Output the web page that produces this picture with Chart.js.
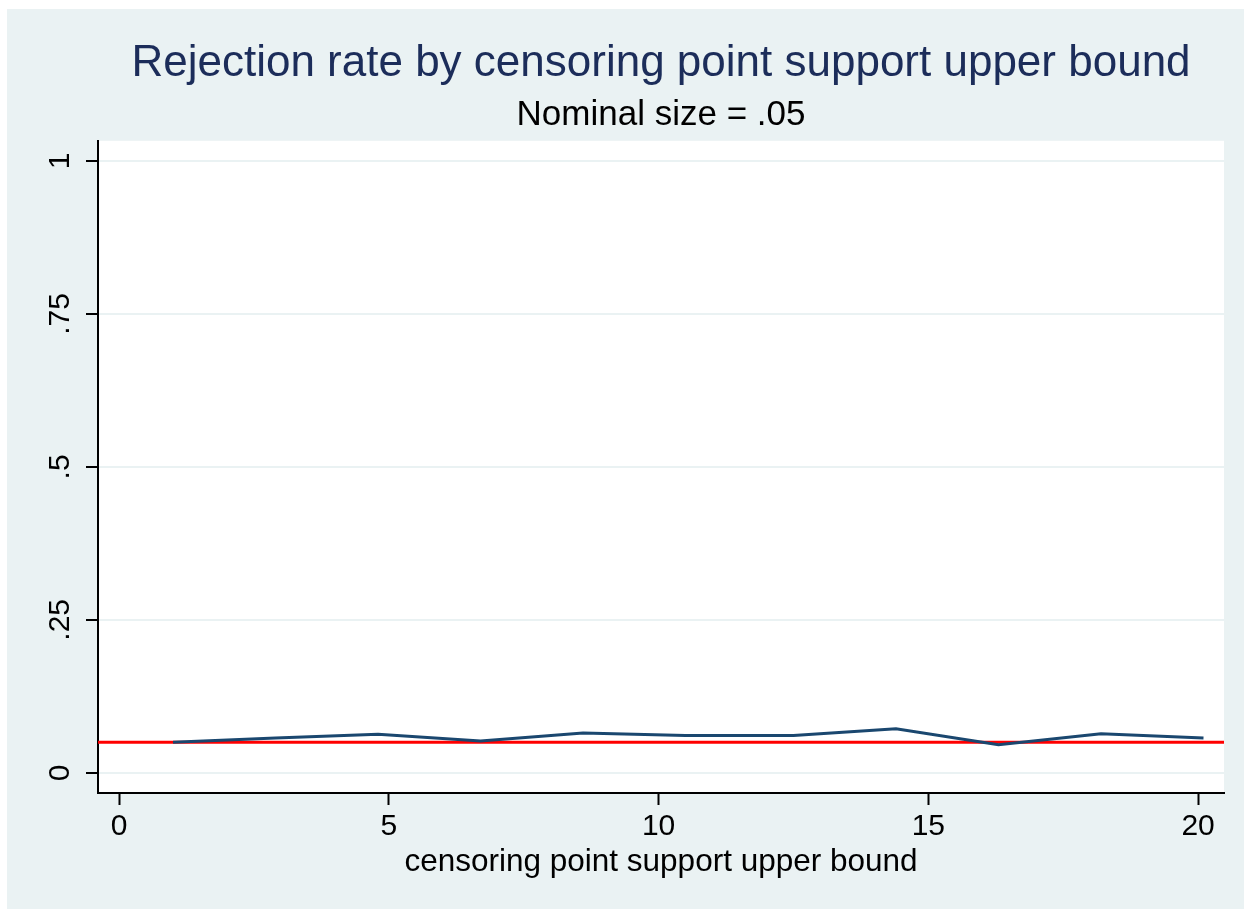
<!DOCTYPE html>
<html>
<head>
<meta charset="utf-8">
<script src="https://cdn.jsdelivr.net/npm/chart.js@4"></script>
<style>
  body { margin: 0; background: #fff; }
  canvas { display: block; }
</style>
</head>
<body>
<canvas id="rejChart" width="1244" height="909"></canvas>
<script>
// ---- datos ----
const upperBound = [1, 2.9, 4.8, 6.7, 8.6, 10.5, 12.5, 14.4, 16.3, 18.2, 20.1];
const rejectionRate = [0.050, 0.057, 0.063, 0.052, 0.065, 0.061, 0.061, 0.072, 0.046, 0.064, 0.057];
const nominalSize = 0.05;
const xTicks = [0, 5, 10, 15, 20];
const yTicks = [0, 0.25, 0.5, 0.75, 1];
const yTickLabels = ["0", ".25", ".5", ".75", "1"];

const xMin = -0.39, xMax = 20.48;
const yMin = -0.033, yMax = 1.033;

// fondo tipo Stata
const fondo = {
  id: "fondo",
  beforeDraw(chart) {
    const c = chart.ctx;
    const a = chart.chartArea;
    c.save();
    c.fillStyle = "#EAF2F3";
    c.fillRect(7, 9, chart.width - 7, chart.height - 9);
    c.fillStyle = "#FFFFFF";
    c.fillRect(a.left, a.top, a.right - a.left, a.bottom - a.top);
    c.restore();
  }
};

Chart.defaults.font.family = "'Liberation Sans', Arial, sans-serif";
Chart.defaults.color = "#000";

new Chart(document.getElementById("rejChart"), {
  type: "line",
  data: {
    datasets: [
      {
        data: upperBound.map((x, i) => ({ x: x, y: rejectionRate[i] })),
        borderColor: "#1A476F",
        borderWidth: 3,
        pointRadius: 0,
        tension: 0
      },
      {
        data: [{ x: xMin, y: nominalSize }, { x: xMax, y: nominalSize }],
        borderColor: "#FF0000",
        borderWidth: 3,
        pointRadius: 0
      }
    ]
  },
  options: {
    responsive: false,
    animation: false,
    layout: { padding: { left: 0, right: 20, top: 0, bottom: 0 } },
    plugins: {
      legend: { display: false },
      tooltip: { enabled: false },
      title: {
        display: true,
        text: "Rejection rate by censoring point support upper bound",
        color: "#1C2D5A",
        fullSize: false,
        font: { size: 44, weight: "normal" },
        padding: { top: 37, bottom: 0 }
      },
      subtitle: {
        display: true,
        text: "Nominal size = .05",
        color: "#000",
        fullSize: false,
        font: { size: 35, weight: "normal" },
        padding: { top: 5, bottom: 4 }
      }
    },
    scales: {
      x: {
        type: "linear",
        min: xMin,
        max: xMax,
        afterBuildTicks: (s) => { s.ticks = xTicks.map((v) => ({ value: v })); },
        afterFit: (s) => { s.height = 116; },
        grid: { drawOnChartArea: false, tickLength: 12, tickColor: "#000", tickWidth: 2 },
        border: { color: "#000", width: 2 },
        ticks: { font: { size: 30 }, padding: 4, maxRotation: 0 },
        title: {
          display: true,
          text: "censoring point support upper bound",
          font: { size: 31.5 },
          padding: { top: 0, bottom: 28 }
        }
      },
      y: {
        type: "linear",
        min: yMin,
        max: yMax,
        afterBuildTicks: (s) => { s.ticks = yTicks.map((v) => ({ value: v })); },
        afterFit: (s) => { s.width = 98; },
        grid: { color: "#EAF2F3", lineWidth: 2, tickLength: 12, tickColor: "#000", tickWidth: 2 },
        border: { color: "#000", width: 2 },
        ticks: {
          font: { size: 30 },
          padding: 4,
          minRotation: 90,
          maxRotation: 90,
          crossAlign: "center",
          callback: (v) => yTickLabels[yTicks.indexOf(v)]
        }
      }
    }
  },
  plugins: [fondo]
});
</script>
</body>
</html>
